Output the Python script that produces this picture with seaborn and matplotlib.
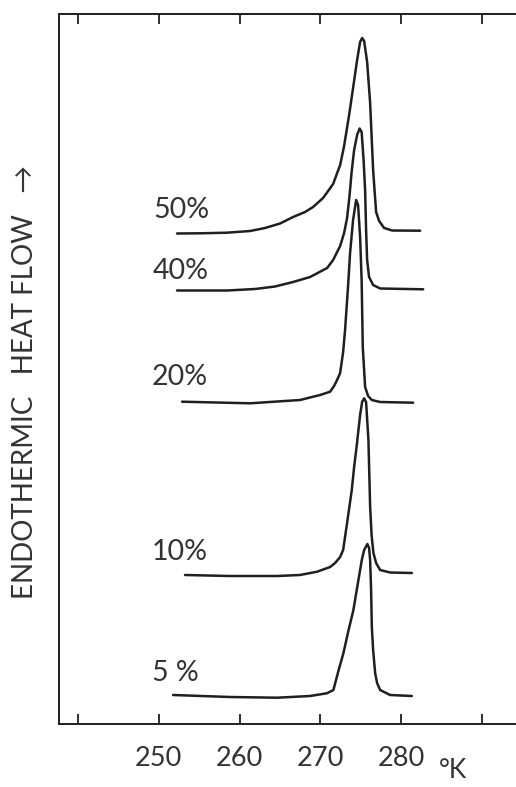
import matplotlib
matplotlib.use("Agg")
import matplotlib.pyplot as plt
import numpy as np
import pandas as pd
import seaborn as sns

# DSC melting endotherms of aqueous samples at several concentrations.
# Temperature in K, heat flow in arbitrary units (curves are offset vertically).
t_50 = [252.25, 255.10, 258.44, 261.29, 263.14, 265.00, 266.61, 268.09, 269.08,
        270.32, 271.56, 272.43, 272.92, 273.54, 274.03, 274.53, 274.90, 275.15,
        275.40, 275.77, 276.14, 276.51, 276.88, 277.25, 277.87, 278.86, 282.33]
h_50 = [4.905, 4.907, 4.913, 4.93, 4.96, 5.005, 5.07, 5.12, 5.17,
        5.26, 5.40, 5.59, 5.78, 6.09, 6.36, 6.64, 6.82, 6.86,
        6.83, 6.62, 6.21, 5.54, 5.12, 5.03, 4.96, 4.935, 4.933]

t_40 = [252.25, 258.44, 261.91, 264.38, 266.61, 268.71, 270.82, 271.56, 272.43,
        272.92, 273.29, 273.60, 273.85, 274.16, 274.53, 274.84, 275.09, 275.33,
        275.52, 275.64, 275.77, 276.01, 276.51, 277.38, 282.70]
h_40 = [4.335, 4.335, 4.35, 4.375, 4.42, 4.47, 4.56, 4.64, 4.78,
        4.91, 5.06, 5.29, 5.52, 5.74, 5.89, 5.955, 5.92, 5.64,
        5.34, 4.94, 4.64, 4.47, 4.39, 4.355, 4.347]

t_20 = [252.87, 261.29, 267.47, 269.95, 271.19, 271.68, 272.05, 272.43, 272.80,
        273.04, 273.42, 273.66, 274.03, 274.41, 274.65, 274.90, 275.09, 275.23,
        275.52, 275.89, 276.35, 277.38, 281.46]
h_20 = [3.223, 3.207, 3.24, 3.29, 3.323, 3.38, 3.44, 3.51, 3.72,
        3.94, 4.39, 4.71, 5.04, 5.24, 5.19, 4.87, 4.44, 3.77,
        3.37, 3.28, 3.24, 3.22, 3.213]

t_10 = [253.24, 258.81, 264.63, 267.47, 269.58, 271.19, 271.81, 272.43, 272.80,
        273.29, 273.87, 274.16, 274.49, 274.90, 275.15, 275.40, 275.64, 275.93,
        276.14, 276.32, 276.55, 276.88, 277.38, 278.61, 281.30]
h_10 = [1.49, 1.48, 1.48, 1.49, 1.523, 1.57, 1.61, 1.67, 1.74,
        2.01, 2.34, 2.57, 2.79, 3.09, 3.22, 3.257, 3.22, 2.84,
        2.173, 1.89, 1.71, 1.61, 1.54, 1.515, 1.51]

t_5 = [251.76, 258.81, 264.63, 268.71, 270.78, 271.60, 272.18, 272.83, 273.42,
       274.07, 274.65, 275.11, 275.40, 275.80, 276.01, 276.14, 276.26, 276.35,
       276.51, 276.76, 277.00, 277.38, 278.61, 281.30]
h_5 = [0.29, 0.27, 0.263, 0.28, 0.307, 0.34, 0.52, 0.707, 0.92,
       1.14, 1.42, 1.64, 1.74, 1.80, 1.76, 1.64, 1.34, 0.97,
       0.74, 0.51, 0.41, 0.34, 0.29, 0.28]

concentrations = ["50%", "40%", "20%", "10%", "5 %"]
curves_t = [t_50, t_40, t_20, t_10, t_5]
curves_h = [h_50, h_40, h_20, h_10, h_5]
label_t = [252.75, 252.75, 252.62, 252.62, 252.0]
label_h = [5.14, 4.53, 3.47, 1.72, 0.51]

tick_values = [240, 250, 260, 270, 280, 290]
tick_labels = ["", "250", "260", "270", "280", ""]

rows = []
for name, ts, hs in zip(concentrations, curves_t, curves_h):
    for t, h in zip(ts, hs):
        rows.append({"conc": name, "T": t, "H": h})
df = pd.DataFrame(rows)

sns.set_theme(style="white")
plt.rcParams["font.family"] = ["Lato", "DejaVu Sans"]

ink = "#1f1f1f"
text_ink = "#333333"
fig = plt.figure(figsize=(5.16, 7.87), dpi=100)
fig.patch.set_facecolor("white")
# frame runs past the right edge of the figure
ax = fig.add_axes([59 / 516, 63 / 787, 504 / 516, 710 / 787])

sns.lineplot(data=df, x="T", y="H", units="conc", estimator=None, sort=False,
             color=ink, linewidth=1.8, ax=ax, legend=False)
for line in ax.lines:
    line.set_solid_joinstyle("round")
    line.set_solid_capstyle("round")

ax.set_xlim(237.65, 300.0)
ax.set_ylim(0, 7.10)

for name, x, y in zip(concentrations, label_t, label_h):
    ax.text(x, y, name, ha="center", va="center", fontsize=20.5,
            color=text_ink)

ax.set_xticks(tick_values)
ax.set_xticklabels(tick_labels)
ax.set_yticks([])
ax.tick_params(axis="x", which="both", direction="in", top=True, bottom=True,
               length=7.5, width=1.3, color=ink, labelsize=19.5,
               labelcolor=text_ink, pad=16)

for side in ["left", "bottom", "top", "right"]:
    ax.spines[side].set_color(ink)
    ax.spines[side].set_linewidth(1.4)

ax.set_xlabel("")
ax.set_ylabel("")
ax.text(286.4, -0.47, "°K", ha="center", va="center", fontsize=19,
        color=text_ink, clip_on=False)

fig.text(25 / 516, 1 - 382 / 787, "ENDOTHERMIC   HEAT FLOW   →",
         rotation=90, ha="center", va="center", fontsize=20,
         color=text_ink)

fig.savefig("out.png", dpi=100, facecolor="white")
